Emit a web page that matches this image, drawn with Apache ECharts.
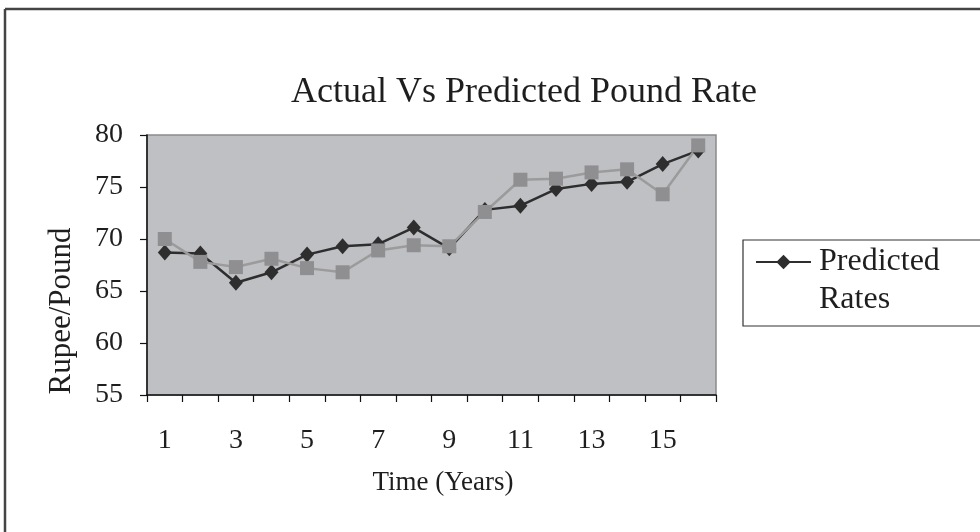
<!DOCTYPE html>
<html>
<head>
<meta charset="utf-8">
<script src="https://cdn.jsdelivr.net/npm/echarts@6/dist/echarts.min.js"></script>
<style>
    html, body { margin: 0; padding: 0; background: #fff; }
    #chart { width: 980px; height: 532px; }
</style>
</head>
<body>
<div id="chart"></div>
<script>
    // 数据
    const years = ['1','2','3','4','5','6','7','8','9','10','11','12','13','14','15','16']
    const predictedRates = [68.7, 68.6, 65.8, 66.8, 68.5, 69.3, 69.5, 71.1, 69.1, 72.8, 73.2, 74.8, 75.3, 75.5, 77.2, 78.5]
    const actualRates = [70.0, 67.8, 67.3, 68.1, 67.2, 66.8, 68.9, 69.4, 69.3, 72.6, 75.7, 75.8, 76.4, 76.7, 74.3, 79.0]

    const serif = 'Liberation Serif, Times New Roman, serif'
    const ink = '#1e1e1e'

    let chart = echarts.init(document.getElementById('chart'))

    chart.setOption({
        animation: false,
        backgroundColor: '#fff',
        title: {
            text: 'Actual Vs Predicted Pound Rate',
            left: 291,
            top: 75,
            padding: 0,
            textStyle: { fontFamily: serif, fontSize: 36, fontWeight: 'normal', color: ink }
        },
        graphic: [
            // 外框（只露出上边和左边）
            { type: 'line', shape: { x1: 5, y1: 9, x2: 980, y2: 9 }, style: { stroke: '#444', lineWidth: 2.5 } },
            { type: 'line', shape: { x1: 5, y1: 9, x2: 5, y2: 532 }, style: { stroke: '#444', lineWidth: 2.5 } },
            // 图例边框
            { type: 'rect', shape: { x: 743, y: 240, width: 260, height: 86 }, style: { fill: '#fff', stroke: '#333', lineWidth: 1.2 }, z: -1 }
        ],
        legend: {
            data: ['Predicted Rates'],
            left: 755,
            top: 205,
            padding: 0,
            itemWidth: 55,
            itemHeight: 18,
            // 前面加空行，让图标对齐第一行文字
            formatter: name => '\n' + name.replace(' ', '\n'),
            textStyle: { fontFamily: serif, fontSize: 32, lineHeight: 38, color: ink, padding: [0, 0, 0, 3] }
        },
        grid: {
            left: 147, right: 264, top: 135, bottom: 137,
            show: true,
            backgroundColor: '#bfc0c4',
            borderColor: '#8a8a8a',
            borderWidth: 1.5
        },
        xAxis: {
            type: 'category',
            data: years,
            boundaryGap: true,
            name: 'Time (Years)',
            nameLocation: 'middle',
            nameGap: 74,
            nameTextStyle: { fontFamily: serif, fontSize: 27, color: ink, padding: [0, 0, 0, 23] },
            axisLine: { lineStyle: { color: '#111', width: 1.5 } },
            axisTick: { show: true, interval: 0, length: 7, lineStyle: { color: '#111', width: 1.2 } },
            axisLabel: { interval: 1, margin: 32, fontFamily: serif, fontSize: 28, color: ink },
            splitLine: { show: false }
        },
        yAxis: {
            type: 'value',
            min: 55,
            max: 80,
            interval: 5,
            name: 'Rupee/Pound',
            nameLocation: 'middle',
            nameGap: 70,
            nameTextStyle: { fontFamily: serif, fontSize: 31, color: ink, padding: [0, 92, 0, 0] },
            axisLine: { show: true, lineStyle: { color: '#111', width: 1.5 } },
            axisTick: { show: true, length: 7, lineStyle: { color: '#111', width: 1.2 } },
            axisLabel: { margin: 24, fontFamily: serif, fontSize: 28, color: ink },
            splitLine: { show: false }
        },
        series: [
            {
                name: 'Predicted Rates',
                type: 'line',
                data: predictedRates,
                symbol: 'diamond',
                symbolSize: [14, 16],
                lineStyle: { color: '#2e2e2e', width: 2.5 },
                itemStyle: { color: '#2e2e2e' }
            },
            {
                name: 'Actual Rates',
                type: 'line',
                data: actualRates,
                symbol: 'rect',
                symbolSize: 14,
                lineStyle: { color: '#9b9b9b', width: 2.5 },
                itemStyle: { color: '#8f8f91' }
            }
        ]
    })
</script>
</body>
</html>
